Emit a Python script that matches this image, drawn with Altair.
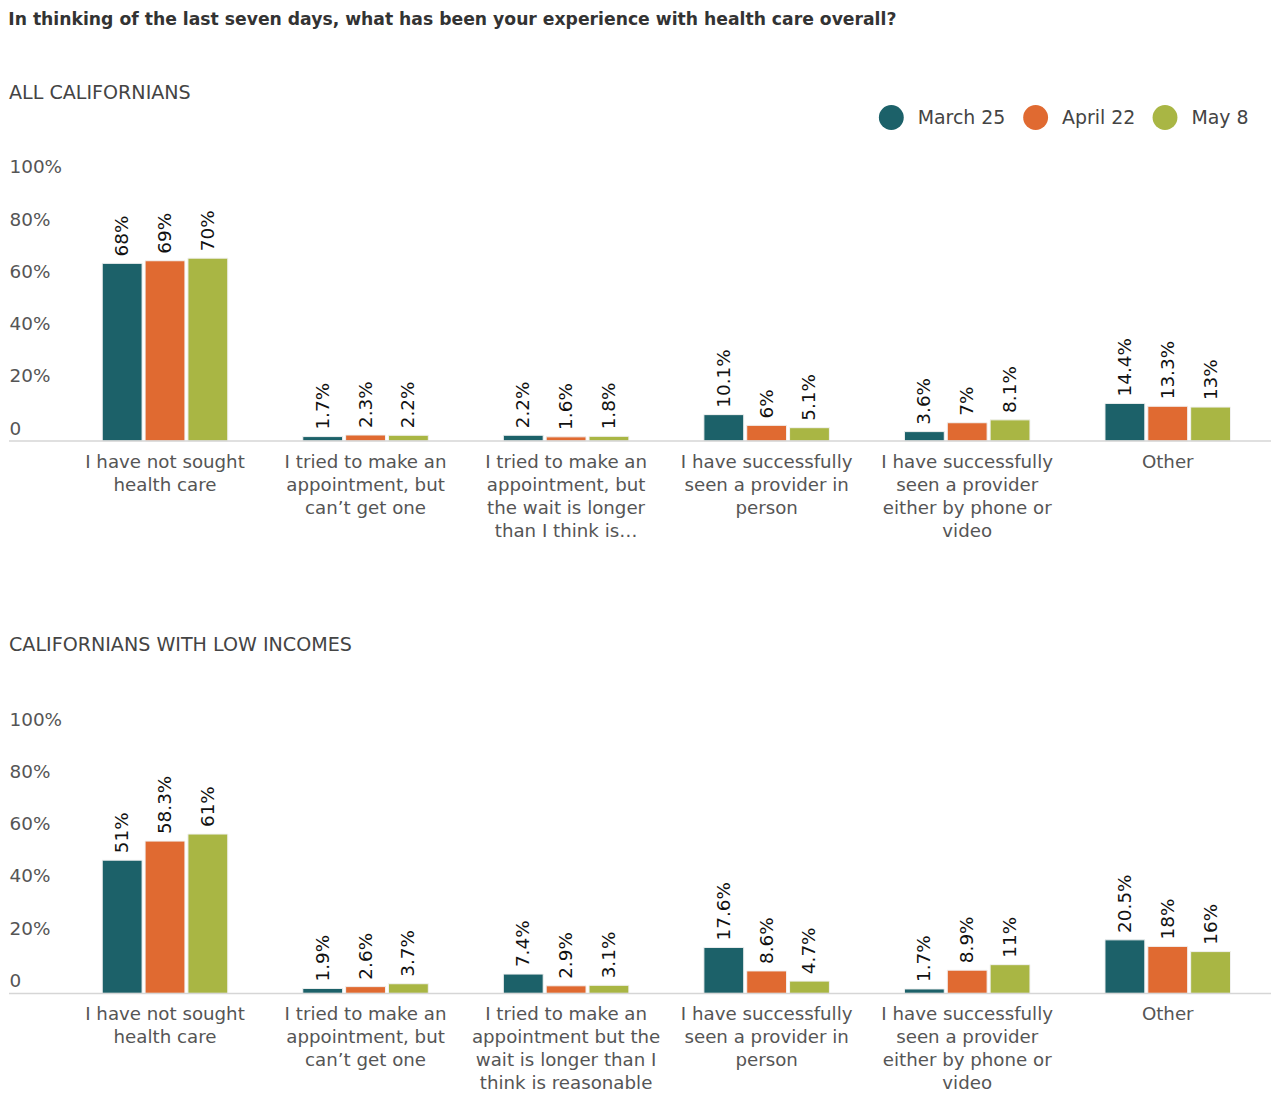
import altair as alt
import pandas as pd

series = ["March 25", "April 22", "May 8"]
colors = ["#1c6169", "#e06a31", "#a9b644"]

cats_all = [
    "I have not sought|health care",
    "I tried to make an|appointment, but|can\u2019t get one",
    "I tried to make an|appointment, but|the wait is longer|than I think is\u2026",
    "I have successfully|seen a provider in|person",
    "I have successfully|seen a provider|either by phone or|video",
    "Other",
]
cats_low = [
    "I have not sought|health care",
    "I tried to make an|appointment, but|can\u2019t get one",
    "I tried to make an|appointment but the|wait is longer than I|think is reasonable",
    "I have successfully|seen a provider in|person",
    "I have successfully|seen a provider|either by phone or|video",
    "Other",
]

all_march = [68, 1.7, 2.2, 10.1, 3.6, 14.4]
all_april = [69, 2.3, 1.6, 6, 7, 13.3]
all_may = [70, 2.2, 1.8, 5.1, 8.1, 13]

low_march = [51, 1.9, 7.4, 17.6, 1.7, 20.5]
low_april = [58.3, 2.6, 2.9, 8.6, 8.9, 18]
low_may = [61, 3.7, 3.1, 4.7, 11, 16]

FONT = "DejaVu Sans"
W = 1209
H = 262.5
LP = 56


def make_df(cats, vals_by_series):
    rows = []
    for s, vals in zip(series, vals_by_series):
        for c, v in zip(cats, vals):
            rows.append({"cat": c, "series": s, "value": v})
    return pd.DataFrame(rows)


def panel(cats, vals, title, show_legend, title_offset):
    df = make_df(cats, vals)
    base = alt.Chart(df).transform_calculate(lbl="datum.value + '%'")
    x = alt.X(
        "cat:N",
        sort=cats,
        scale=alt.Scale(paddingInner=0.374, paddingOuter=0.187),
        axis=alt.Axis(
            title=None,
            labelAngle=0,
            labelExpr="split(datum.value, '|')",
            labelFontSize=18.3,
            labelColor="#555555",
            labelFont=FONT,
            labelLineHeight=23,
            labelPadding=12.5,
            labelBaseline="top",
            ticks=False,
            domain=False,
            labelLimit=300,
        ),
    )
    xo = alt.XOffset("series:N", sort=series, scale=alt.Scale(paddingInner=0.07))
    y = alt.Y(
        "value:Q",
        scale=alt.Scale(domain=[0, 100], nice=False),
        axis=alt.Axis(
            title=None,
            values=[0, 20, 40, 60, 80, 100],
            labelExpr="datum.value == 0 ? '0' : datum.value + '%'",
            labelAlign="left",
            labelPadding=LP,
            labelFontSize=18.5,
            labelColor="#555555",
            labelFont=FONT,
            labelBaseline="alphabetic",
            labelOffset=-7,
            ticks=False,
            domain=False,
            grid=False,
        ),
    )
    if show_legend:
        legend = alt.Legend(
            title=None,
            orient="none",
            direction="horizontal",
            legendX=818,
            legendY=-75,
            symbolType="circle",
            symbolSize=625,
            symbolStrokeWidth=0,
            labelFontSize=19,
            labelColor="#444444",
            labelFont=FONT,
            labelOffset=14,
            columnPadding=17,
            padding=0,
        )
    else:
        legend = None
    color = alt.Color(
        "series:N",
        sort=series,
        scale=alt.Scale(domain=series, range=colors),
        legend=legend,
    )
    bars = base.mark_bar(stroke="#f2f2f2", strokeWidth=1).encode(
        x=x, xOffset=xo, y=y, color=color
    )
    labels = base.mark_text(
        angle=270, align="left", baseline="middle", dx=7, fontSize=18.5,
        font=FONT, color="#111111",
    ).encode(x=x, xOffset=xo, y="value:Q", text="lbl:N")
    rule = alt.Chart(pd.DataFrame({"z": [0]})).mark_rule(
        color="#d6d6d6", strokeWidth=1.5
    ).encode(y="z:Q", x=alt.value(-LP), x2=alt.value(W + 3))
    return alt.layer(bars, labels, rule).properties(
        width=W,
        height=H,
        title=alt.TitleParams(
            title,
            anchor="start",
            frame="group",
            dx=-LP,
            offset=title_offset,
            fontSize=19.2,
            fontWeight="normal",
            color="#444444",
            font=FONT,
        ),
    )


p1 = panel(cats_all, [all_march, all_april, all_may], "ALL CALIFORNIANS", True, 2)
p2 = panel(cats_low, [low_march, low_april, low_may], "CALIFORNIANS WITH LOW INCOMES", False, 55)

chart = (
    alt.vconcat(p1, p2, spacing=96)
    .resolve_scale(x="independent", color="independent")
    .properties(
        title=alt.TitleParams(
            "In thinking of the last seven days, what has been your experience with health care overall?",
            anchor="start",
            fontSize=17.3,
            fontWeight="bold",
            color="#333333",
            font=FONT,
            offset=56,
        ),
        padding={"left": 0, "top": 0, "right": 0, "bottom": 0},
    )
    .configure_view(stroke=None)
)

chart.save("out.html", embed_options={"renderer": "svg", "actions": False})
